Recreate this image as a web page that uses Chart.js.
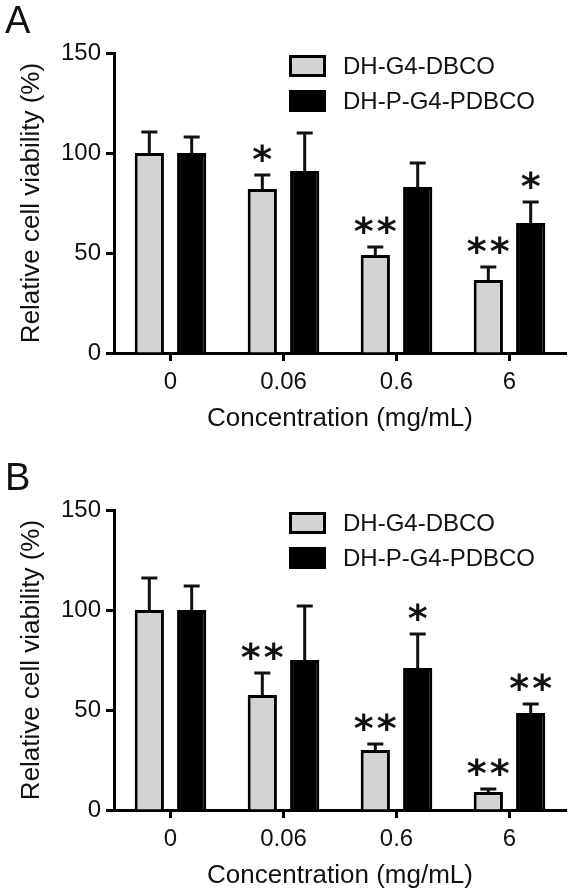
<!DOCTYPE html>
<html>
<head>
<meta charset="utf-8">
<script src="https://cdn.jsdelivr.net/npm/chart.js@4.4.1/dist/chart.umd.min.js"></script>
<style>
  html, body { margin: 0; padding: 0; background: #fff; overflow: hidden; }
  .panel { position: absolute; left: 0; width: 570px; height: 436px; }
</style>
</head>
<body>
<div class="panel" style="top:0"><canvas id="chart-a" width="570" height="436"></canvas></div>
<div class="panel" style="top:457px"><canvas id="chart-b" width="570" height="436"></canvas></div>
<script>
// data
const categories = ['0', '0.06', '0.6', '6'];
const seriesNames = ['DH-G4-DBCO', 'DH-P-G4-PDBCO'];
const yTicks = [0, 50, 100, 150];

// panel A
const aG4 = [100, 82, 49, 36.5];
const aG4Err = [10.5, 7, 4, 6.5];
const aG4Sig = ['', '*', '**', '**'];
const aPG4 = [100, 91, 83, 65];
const aPG4Err = [8, 19, 12, 10.5];
const aPG4Sig = ['', '', '', '*'];

// panel B
const bG4 = [100, 57.5, 30, 9];
const bG4Err = [16, 11, 3, 1.5];
const bG4Sig = ['', '**', '**', '**'];
const bPG4 = [100, 75, 71, 48.5];
const bPG4Err = [12, 27, 17, 4.5];
const bPG4Sig = ['', '', '*', '**'];

const FONT = '"Liberation Sans", Arial, sans-serif';
const INK = '#111';

// error bars (upper half only) + significance stars
const errorMarks = {
  id: 'errorMarks',
  afterDatasetsDraw(chart) {
    const ctx = chart.ctx;
    const y = chart.scales.y;
    ctx.save();
    chart.data.datasets.forEach((ds, i) => {
      const meta = chart.getDatasetMeta(i);
      meta.data.forEach((bar, j) => {
        const top = y.getPixelForValue(ds.data[j] + ds.errors[j]);
        ctx.strokeStyle = INK;
        ctx.lineWidth = 3;
        ctx.beginPath();
        ctx.moveTo(bar.x, bar.y);
        ctx.lineTo(bar.x, top);
        ctx.moveTo(bar.x - 8, top);
        ctx.lineTo(bar.x + 8, top);
        ctx.stroke();

        const sig = ds.sig[j];
        if (!sig) return;
        ctx.fillStyle = INK;
        ctx.font = 'bold 38px "DejaVu Sans", sans-serif';
        ctx.textAlign = 'left';
        ctx.textBaseline = 'alphabetic';
        const m = ctx.measureText('*');
        const cy = top - 22;
        const base = cy + (m.actualBoundingBoxAscent - m.actualBoundingBoxDescent) / 2;
        const n = sig.length;
        for (let k = 0; k < n; k++) {
          const cx = bar.x + (k - (n - 1) / 2) * 23;
          const gx = cx - (m.actualBoundingBoxRight - m.actualBoundingBoxLeft) / 2 + m.actualBoundingBoxLeft;
          ctx.fillText('*', gx, base);
        }
      });
    });
    ctx.restore();
  }
};

// legend box stacked in the upper right + panel letter
const decorations = {
  id: 'decorations',
  afterDraw(chart, args, opts) {
    const ctx = chart.ctx;
    const area = chart.chartArea;
    ctx.save();
    chart.data.datasets.forEach((ds, i) => {
      const bx = area.left + 175;
      const by = area.top + 2 + i * 35;
      ctx.fillStyle = ds.backgroundColor;
      ctx.fillRect(bx, by, 37, 22);
      ctx.strokeStyle = '#000';
      ctx.lineWidth = 3;
      ctx.strokeRect(bx + 1.5, by + 1.5, 34, 19);
      ctx.fillStyle = INK;
      ctx.font = '24px ' + FONT;
      ctx.textAlign = 'left';
      ctx.textBaseline = 'middle';
      ctx.fillText(ds.label, bx + 54, by + 12);
    });
    ctx.font = '38px ' + FONT;
    ctx.textBaseline = 'alphabetic';
    ctx.fillText(opts.letter, 5, 33);
    ctx.restore();
  }
};

function makeChart(id, letter, g4, g4Err, g4Sig, pg4, pg4Err, pg4Sig) {
  return new Chart(document.getElementById(id), {
    type: 'bar',
    data: {
      labels: categories,
      datasets: [
        {
          label: seriesNames[0],
          data: g4,
          errors: g4Err,
          sig: g4Sig,
          backgroundColor: '#d3d3d3',
          borderColor: '#000',
          borderWidth: 3,
          borderSkipped: 'bottom',
        },
        {
          label: seriesNames[1],
          data: pg4,
          errors: pg4Err,
          sig: pg4Sig,
          backgroundColor: '#000',
          borderColor: '#000',
          borderWidth: 3,
          borderSkipped: 'bottom',
        },
      ],
    },
    options: {
      responsive: false,
      animation: false,
      categoryPercentage: 0.75,
      barPercentage: 0.69,
      layout: { padding: { top: 53, right: 4, left: 0, bottom: 0 } },
      plugins: {
        legend: { display: false },
        tooltip: { enabled: false },
        decorations: { letter },
      },
      scales: {
        x: {
          afterFit: (s) => { s.height = 83; },
          grid: {
            offset: false,
            drawOnChartArea: false,
            drawTicks: true,
            tickLength: 8,
            tickColor: '#000',
            tickWidth: 3,
          },
          border: { color: '#000', width: 3 },
          ticks: { color: INK, font: { family: FONT, size: 24 }, padding: 7, maxRotation: 0 },
          title: {
            display: true,
            text: 'Concentration (mg/mL)',
            color: INK,
            font: { family: FONT, size: 26 },
            padding: { top: 0, bottom: 2 },
          },
        },
        y: {
          min: 0,
          max: 150,
          afterFit: (s) => { s.width = 114; },
          afterBuildTicks: (s) => { s.ticks = yTicks.map((v) => ({ value: v })); },
          grid: {
            drawOnChartArea: false,
            drawTicks: true,
            tickLength: 8,
            tickColor: '#000',
            tickWidth: 3,
          },
          border: { color: '#000', width: 3 },
          ticks: { color: INK, font: { family: FONT, size: 24 }, padding: 5 },
          title: {
            display: true,
            text: 'Relative cell viability (%)',
            color: INK,
            font: { family: FONT, size: 26 },
            padding: { top: 16, bottom: 0 },
          },
        },
      },
    },
    plugins: [errorMarks, decorations],
  });
}

makeChart('chart-a', 'A', aG4, aG4Err, aG4Sig, aPG4, aPG4Err, aPG4Sig);
makeChart('chart-b', 'B', bG4, bG4Err, bG4Sig, bPG4, bPG4Err, bPG4Sig);
</script>
</body>
</html>
